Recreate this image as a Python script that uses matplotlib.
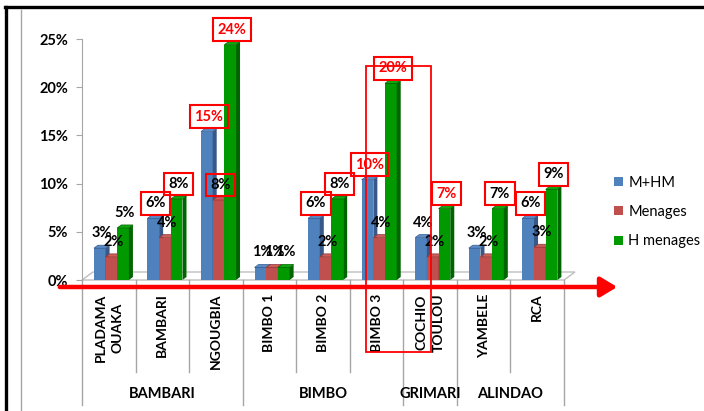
import matplotlib.pyplot as plt
from matplotlib.patches import Polygon, Rectangle, Patch, FancyArrowPatch
from matplotlib.lines import Line2D
from matplotlib.transforms import blended_transform_factory

plt.rcParams['font.family'] = ['Lato', 'DejaVu Sans']

# ------------------------------------------------------------------ #
#  Data                                                                #
# ------------------------------------------------------------------ #
categories = ['PLADAMA\nOUAKA', 'BAMBARI', 'NGOUGBIA', 'BIMBO 1', 'BIMBO 2',
              'BIMBO 3', 'COCHIO\nTOULOU', 'YAMBELE', 'RCA']
groups = ['BAMBARI', 'BIMBO', 'GRIMARI', 'ALINDAO']
group_sizes = [3, 3, 1, 2]
series = ['M+HM', 'Menages', 'H menages']

mhm = [3.3, 6.4, 15.4, 1.3, 6.4, 10.4, 4.4, 3.3, 6.4]
menages = [2.4, 4.4, 8.3, 1.3, 2.4, 4.4, 2.4, 2.4, 3.4]
h_menages = [5.4, 8.4, 24.4, 1.3, 8.4, 20.4, 7.4, 7.4, 9.4]

mhm_labels = ['3%', '6%', '15%', '1%', '6%', '10%', '4%', '3%', '6%']
menages_labels = ['2%', '4%', '8%', '1%', '2%', '4%', '2%', '2%', '3%']
h_menages_labels = ['5%', '8%', '24%', '1%', '8%', '20%', '7%', '7%', '9%']

# highlighted labels: (series index, category index) -> text colour
boxed = {
    (0, 1): 'black', (2, 1): 'black',
    (0, 2): 'red', (1, 2): 'black', (2, 2): 'red',
    (0, 4): 'black', (2, 4): 'black',
    (0, 5): 'red', (2, 5): 'red',
    (2, 6): 'red',
    (2, 7): 'black',
    (0, 8): 'black', (2, 8): 'black',
}

yticks = [0, 5, 10, 15, 20, 25]

colors = ['#4F81BD', '#C0504D', '#009A00']
side_colors = ['#36598A', '#8E3533', '#006400']
top_colors = ['#5B8CC8', '#CB5D5A', '#10A810']

# ------------------------------------------------------------------ #
#  Figure                                                              #
# ------------------------------------------------------------------ #
W, H = 704, 411
fig = plt.figure(figsize=(W / 100, H / 100), dpi=100)
ax = fig.add_axes([82 / W, 1 - 280 / H, (564 - 82) / W, 241 / H])
ax.set_xlim(0, len(categories))
ax.set_ylim(0, 25)

bar_w = 0.218
bar_off = 0.222
dx, dy = 0.075, 0.31          # bar depth (category units / %)
fdx, fdy = 0.205, 0.83        # floor depth

# floor
n = len(categories)
ax.add_patch(Polygon([(0, 0), (n, 0), (n + fdx, fdy), (fdx, fdy)], closed=True,
                     fc='white', ec='#BFBFBF', lw=1, zorder=1, clip_on=False))

all_vals = [mhm, menages, h_menages]
all_labels = [mhm_labels, menages_labels, h_menages_labels]

for i in range(n):
    for s in range(3):
        v = all_vals[s][i]
        x0 = i + bar_off + s * bar_w
        z = 3 + s
        ax.add_patch(Rectangle((x0, 0), bar_w, v, fc=colors[s], ec='none', zorder=z, clip_on=False))
        ax.add_patch(Polygon([(x0 + bar_w, 0), (x0 + bar_w + dx, dy), (x0 + bar_w + dx, v + dy), (x0 + bar_w, v)],
                             closed=True, fc=side_colors[s], ec='none', zorder=z, clip_on=False))
        ax.add_patch(Polygon([(x0, v), (x0 + bar_w, v), (x0 + bar_w + dx, v + dy), (x0 + dx, v + dy)],
                             closed=True, fc=top_colors[s], ec=side_colors[s], lw=0.5, zorder=z, clip_on=False))

for i in range(n):
    for s in range(3):
        v = all_vals[s][i]
        xc = i + bar_off + s * bar_w + bar_w / 2 + dx / 2
        key = (s, i)
        kw = {}
        tc = 'black'
        if key in boxed:
            tc = boxed[key]
            kw['bbox'] = dict(boxstyle='square,pad=0.3', fc='none', ec='#FF0000', lw=1.5)
        ax.annotate(all_labels[s][i], (xc, v), xytext=(0, 10.8), textcoords='offset points',
                    ha='center', va='center', fontsize=10.5, fontweight='bold',
                    color='#FF0000' if tc == 'red' else 'black', zorder=10,
                    annotation_clip=False, **kw)

# axes styling
for sp in ['top', 'right', 'bottom']:
    ax.spines[sp].set_visible(False)
ax.spines['left'].set_color('#A6A6A6')
ax.set_yticks(yticks)
ax.set_yticklabels([f'{t}%' for t in yticks], fontsize=10.5, fontweight='bold')
ax.tick_params(axis='y', length=4, color='#A6A6A6', pad=6)
ax.set_xticks([])

# category / group axis below
tr = blended_transform_factory(ax.transData, ax.transAxes)
for i, c in enumerate(categories):
    ax.text(i + 0.5, -0.055, c, transform=tr, rotation=90, ha='center', va='top',
            multialignment='center', fontsize=10, fontweight='bold', linespacing=1.45)

group_edges = [0]
for g in group_sizes:
    group_edges.append(group_edges[-1] + g)
for i in range(n + 1):
    bottom = -0.52 if i in group_edges else -0.382
    ax.add_line(Line2D([i, i], [0, bottom], transform=tr, color='#A6A6A6', lw=1, clip_on=False))
for g, a, b in zip(groups, group_edges[:-1], group_edges[1:]):
    ax.text((a + b) / 2, -0.473, g, transform=tr, ha='center', va='center',
            fontsize=10.5, fontweight='bold')

# highlight rectangle around BIMBO 3
ax.add_patch(Rectangle((366 / W, 1 - 352 / H), (431 - 366) / W, (352 - 66) / H,
                       transform=fig.transFigure, fc='none', ec='#FF0000', lw=1.3,
                       zorder=12, clip_on=False))

# red arrow along the axis
fig.patches.append(FancyArrowPatch((57 / W, 1 - 287 / H), (620 / W, 1 - 287 / H),
                                   transform=fig.transFigure, arrowstyle='-|>,head_length=10,head_width=6',
                                   mutation_scale=1, color='#FF0000', lw=3.2, zorder=11))

# legend
handles = [Patch(fc=c, ec='none') for c in colors]
fig.legend(handles, series, loc='center left', bbox_to_anchor=(607 / W, 1 - 212 / H),
           frameon=False, fontsize=10.5, handlelength=0.6, handleheight=0.6,
           handletextpad=0.35, labelspacing=1.05, borderpad=0)

# outer frame
fig.add_artist(Line2D([5 / W, 1], [1 - 7 / H, 1 - 7 / H], color='black', lw=2.4))
fig.add_artist(Line2D([6 / W, 6 / W], [0, 1 - 7 / H], color='black', lw=2.4))
fig.add_artist(Line2D([21 / W, 21 / W], [0, 1 - 10 / H], color='#A6A6A6', lw=1))

fig.savefig('out.png', dpi=100)
